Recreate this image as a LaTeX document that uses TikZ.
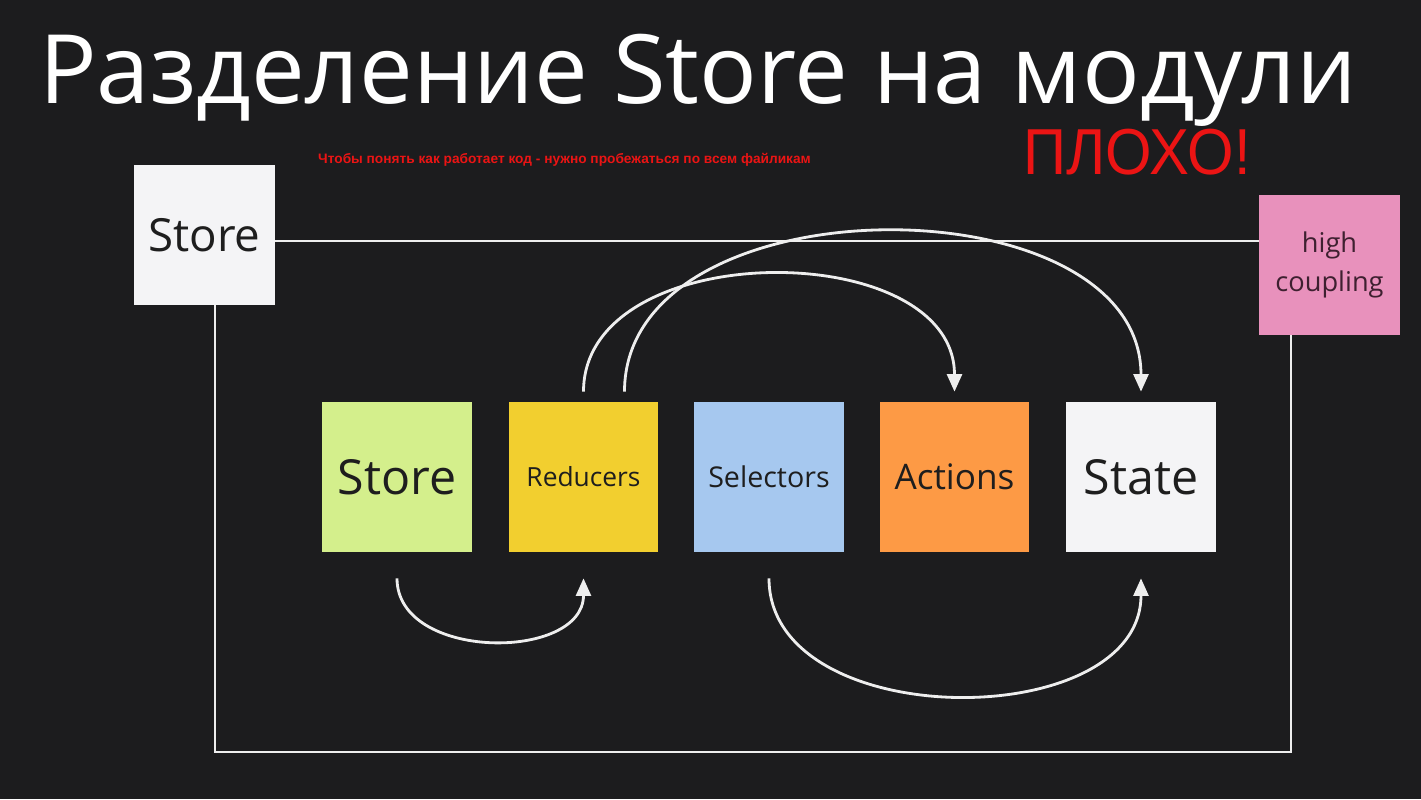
\documentclass[tikz,border=0pt]{standalone}
\usepackage{fontspec}
\setmainfont{Open Sans}
\newfontfamily\notefont{Liberation Sans}
\usetikzlibrary{arrows.meta}
\definecolor{bgdark}{RGB}{28,28,30}
\definecolor{paperwhite}{RGB}{244,244,246}
\definecolor{stickygreen}{RGB}{212,239,140}
\definecolor{stickyyellow}{RGB}{242,207,47}
\definecolor{stickyblue}{RGB}{166,200,239}
\definecolor{stickyorange}{RGB}{253,154,69}
\definecolor{stickypink}{RGB}{232,145,188}
\definecolor{inkdark}{RGB}{30,30,30}
\definecolor{inkplum}{RGB}{62,32,48}
\definecolor{linegrey}{RGB}{238,238,238}
\definecolor{alertred}{RGB}{235,20,20}

\begin{document}
\begin{tikzpicture}[x=0.02cm,y=-0.02cm,
                sticky/.style={rectangle,
                inner sep=0pt,
                minimum width=3cm,
                minimum height=3cm,
                text=inkdark,
                align=center},
                wire/.style={linegrey, line width=1.4pt},
                arr/.style={-{Triangle[length=10pt,width=8.5pt]}, linegrey, line width=1.6pt}]
                \fill[bgdark] (0,0) rectangle (1421,799);
                \node[text=white, anchor=base west, font=\fontsize{54.5}{60}\selectfont]
                    (title) at (33,103) {Разделение Store на модули};
                \node[text=alertred, anchor=west, font=\notefont\bfseries\fontsize{7.8}{9}\selectfont]
                    (note) at (312,160) {Чтобы понять как работает код - нужно пробежаться по всем файликам};
                \node[text=alertred, anchor=west, xscale=0.92, font=\notefont\fontsize{37}{40}\selectfont]
                    (verdict) at (1018,152) {ПЛОХО!};
                % frame notes
                \node[sticky, fill=paperwhite, minimum width=2.82cm, minimum height=2.8cm,
                      font=\fontsize{26}{30}\selectfont] (storetop) at (204.5,235) {Store};
                \node[sticky, fill=stickypink, text=inkplum, minimum width=2.82cm, minimum height=2.8cm,
                      font=\fontsize{15.5}{22}\selectfont] (coupling) at (1329.5,265) {high\\coupling};
                % modules
                \node[sticky, fill=stickygreen, font=\fontsize{27.5}{30}\selectfont] (storemid) at (397,477) {Store};
                \node[sticky, fill=stickyyellow, font=\fontsize{15}{18}\selectfont] (red) at (583.5,477) {Reducers};
                \node[sticky, fill=stickyblue, font=\fontsize{16.3}{18}\selectfont] (sel) at (769,477) {Selectors};
                \node[sticky, fill=stickyorange, font=\fontsize{20}{22}\selectfont] (act) at (954.5,477) {Actions};
                \node[sticky, fill=paperwhite, font=\fontsize{27.5}{30}\selectfont] (state) at (1141,477) {State};
                % coupling loop
                \coordinate (loopbottom) at (0,752);
                \coordinate (cornerR) at ([xshift=-0.77cm]coupling.south);
                \draw[wire] ([yshift=-0.12cm]storetop.east) -- ([yshift=-0.12cm]storetop.east -| coupling.west);
                \draw[wire] ([xshift=0.21cm]storetop.south) |- (cornerR |- loopbottom) -- (cornerR);
                % dependencies
                \draw[arr] ([yshift=0.2cm]red.north) .. controls +(0,-156) and +(0,-156) .. ([yshift=0.2cm]act.north);
                \draw[arr] ([xshift=0.82cm,yshift=0.2cm]red.north) .. controls +(0,-213) and +(0,-213) .. ([yshift=0.2cm]state.north);
                \draw[arr] ([yshift=-0.52cm]storemid.south) .. controls +(0,83) and +(0,83) .. ([yshift=-0.52cm]red.south);
                \draw[arr] ([yshift=-0.52cm]sel.south) .. controls +(0,156) and +(0,156) .. ([yshift=-0.52cm]state.south);
\end{tikzpicture}
\end{document}
